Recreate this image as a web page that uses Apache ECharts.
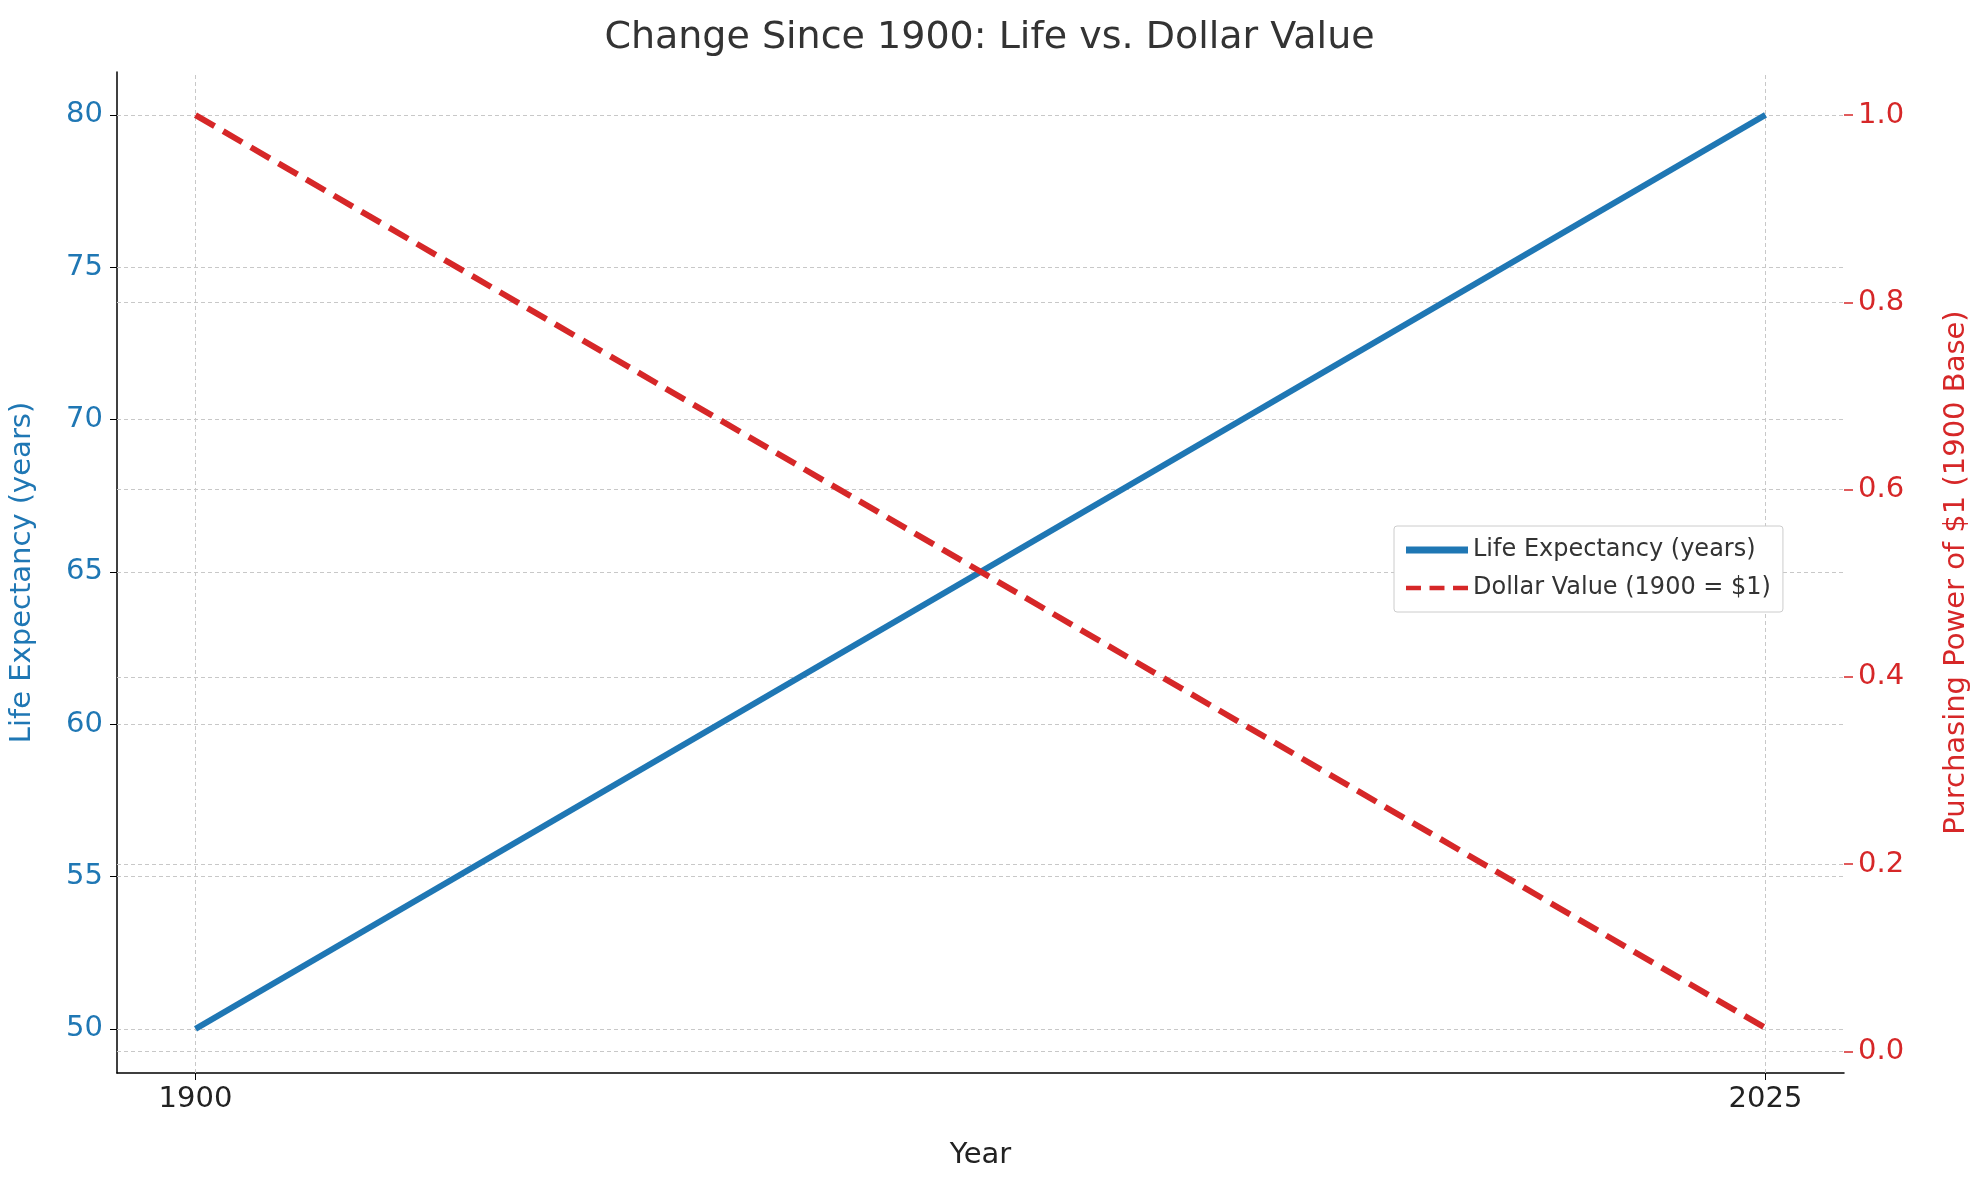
<!DOCTYPE html>
<html>
<head>
<meta charset="utf-8">
<script src="https://cdn.jsdelivr.net/npm/echarts@6/dist/echarts.min.js"></script>
<style>html,body{margin:0;padding:0;background:#fff}#c{width:1979px;height:1180px}</style>
</head>
<body>
<div id="c"></div>
<script>
// 数据
let years = [1900, 2025];
let lifeExp = [50, 80];
let dollarValue = [1.0, 0.025];
let lifeTicks = [50, 55, 60, 65, 70, 75, 80];
let dollarTicks = [0, 0.2, 0.4, 0.6, 0.8, 1.0];

let font = 'DejaVu Sans';
let grid = {type: [4, 3], color: '#c8c8c8', width: 1};

function gridLines(vals, axis) {
    return vals.map(v => axis === 'x' ? {xAxis: v} : {yAxis: v});
}

let chart = echarts.init(document.getElementById('c'));
chart.setOption({
    animation: false,
    textStyle: {fontFamily: font},
    title: {
        text: 'Change Since 1900: Life vs. Dollar Value',
        left: 'center', top: 14,
        textStyle: {fontFamily: font, fontSize: 38, fontWeight: 'normal', color: '#333'}
    },
    legend: {
        orient: 'vertical', left: 1394, top: 526,
        padding: [12, 12], itemGap: 14,
        backgroundColor: '#fff', borderColor: '#ccc', borderWidth: 1, borderRadius: 3,
        itemWidth: 62, itemHeight: 7,
        textStyle: {fontFamily: font, fontSize: 24, color: '#333'},
        data: [
            {name: 'Life Expectancy (years)', icon: 'rect'},
            {name: 'Dollar Value (1900 = $1)', icon: 'path://M0,0H14V4H0Z M22,0H36V4H22Z M44,0H58V4H44Z'}
        ]
    },
    grid: {left: 116, right: 126, top: 72, bottom: 107},
    xAxis: {
        type: 'value', min: 1893.75, max: 2031.25,
        name: 'Year', nameLocation: 'middle', nameGap: 68,
        nameTextStyle: {fontFamily: font, fontSize: 29, color: '#222'},
        axisLine: {show: true, onZero: false, lineStyle: {color: '#000', width: 1.5}},
        axisTick: {show: true, customValues: years, length: 7, lineStyle: {color: '#000'}},
        axisLabel: {customValues: years, fontSize: 29, color: '#222', margin: 12,
            formatter: v => String(v)},
        splitLine: {show: false}
    },
    yAxis: [{
        type: 'value', min: 48.55, max: 81.41,
        name: 'Life Expectancy (years)', nameLocation: 'middle', nameGap: 80,
        nameTextStyle: {fontFamily: font, fontSize: 29, color: '#1f77b4'},
        axisLine: {show: true, onZero: false, lineStyle: {color: '#000', width: 1.5}},
        axisTick: {show: true, customValues: lifeTicks, length: 7, lineStyle: {color: '#000'}},
        axisLabel: {customValues: lifeTicks, fontSize: 29, color: '#1f77b4', margin: 14},
        splitLine: {show: false}
    }, {
        type: 'value', min: -0.023, max: 1.046,
        name: 'Purchasing Power of $1 (1900 Base)', nameLocation: 'middle', nameGap: 98,
        nameTextStyle: {fontFamily: font, fontSize: 29, color: '#d62728'},
        axisLine: {show: false},
        axisTick: {show: true, customValues: dollarTicks, length: 9, lineStyle: {color: '#d62728', width: 1.5}},
        axisLabel: {customValues: dollarTicks, fontSize: 29, color: '#d62728', margin: 14,
            formatter: v => v.toFixed(1)},
        splitLine: {show: false}
    }],
    series: [{
        name: 'Life Expectancy (years)', type: 'line', yAxisIndex: 0,
        data: years.map((y, i) => [y, lifeExp[i]]),
        showSymbol: false, z: 3,
        lineStyle: {color: '#1f77b4', width: 6},
        itemStyle: {color: '#1f77b4'},
        markLine: {
            silent: true, symbol: 'none', label: {show: false}, z: 1,
            lineStyle: grid,
            data: gridLines(lifeTicks, 'y').concat(gridLines(years, 'x'))
        }
    }, {
        name: 'Dollar Value (1900 = $1)', type: 'line', yAxisIndex: 1,
        data: years.map((y, i) => [y, dollarValue[i]]),
        showSymbol: false, z: 4,
        lineStyle: {color: '#d62728', width: 6, type: [22, 10]},
        itemStyle: {color: '#d62728'},
        markLine: {
            silent: true, symbol: 'none', label: {show: false}, z: 1,
            lineStyle: grid,
            data: gridLines(dollarTicks, 'y')
        }
    }]
});
</script>
</body>
</html>
